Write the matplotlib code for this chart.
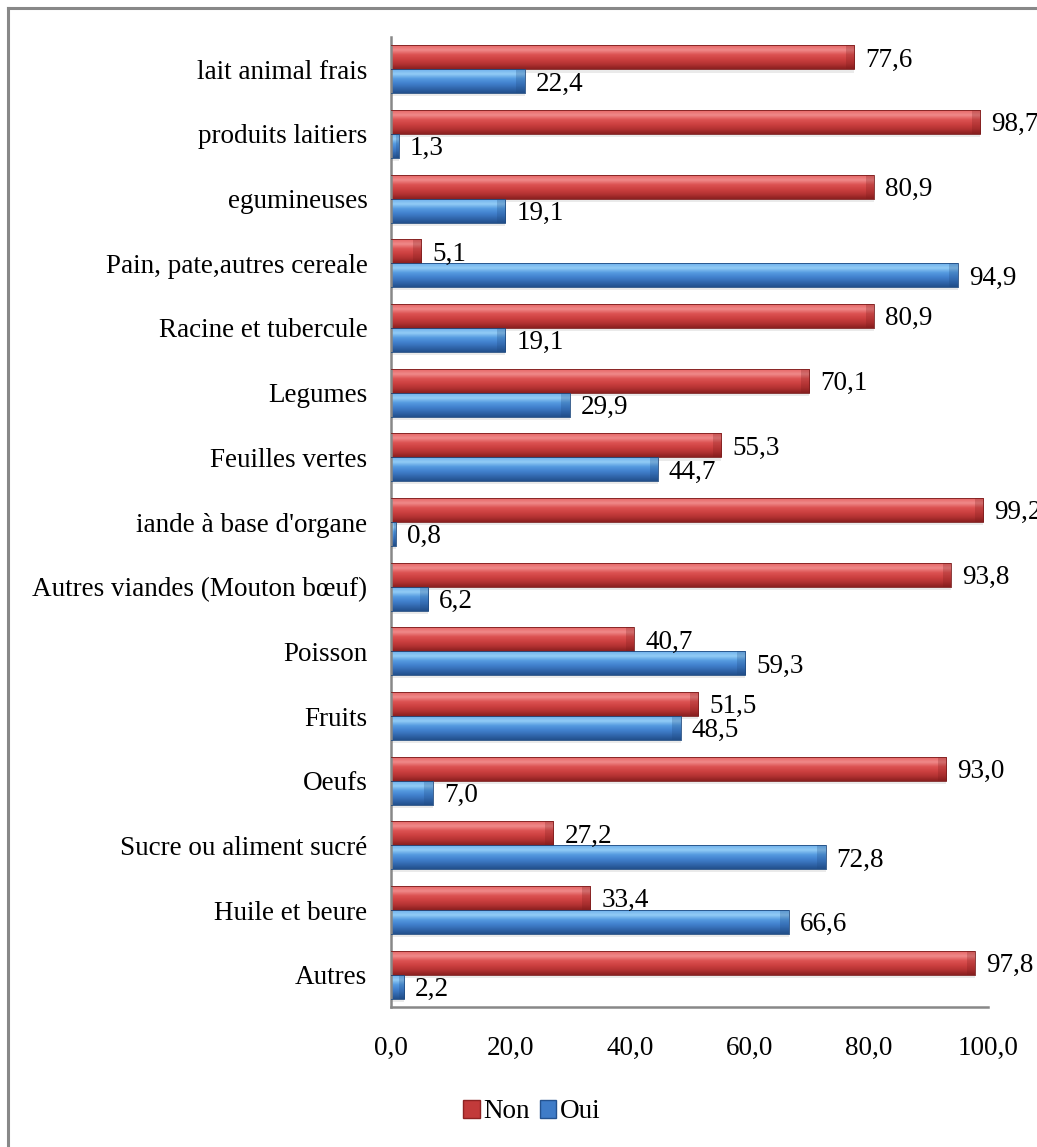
import matplotlib.pyplot as plt
import numpy as np
from matplotlib.colors import LinearSegmentedColormap
from matplotlib.patches import Patch
from matplotlib.lines import Line2D

plt.rcParams['font.family'] = ['Liberation Serif', 'DejaVu Serif']

# aliments consommés (ordre de haut en bas)
categories = ["lait animal frais", "produits laitiers", "egumineuses",
              "Pain, pate,autres cereale", "Racine et tubercule", "Legumes",
              "Feuilles vertes", "iande à base d'organe",
              "Autres viandes (Mouton bœuf)", "Poisson", "Fruits", "Oeufs",
              "Sucre ou aliment sucré", "Huile et beure", "Autres"]
non_vals = [77.6, 98.7, 80.9, 5.1, 80.9, 70.1, 55.3, 99.2, 93.8, 40.7,
            51.5, 93.0, 27.2, 33.4, 97.8]
oui_vals = [22.4, 1.3, 19.1, 94.9, 19.1, 29.9, 44.7, 0.8, 6.2, 59.3,
            48.5, 7.0, 72.8, 66.6, 2.2]
xticks = [0, 20, 40, 60, 80, 100]

FS = 19.5

# degrade vertical (bas -> haut) pour l'effet cylindre
red_cmap = LinearSegmentedColormap.from_list(
    'red3d', ['#8a2020', '#b33232', '#cc4040', '#dc5252', '#f08a8a', '#e56565'])
blue_cmap = LinearSegmentedColormap.from_list(
    'blue3d', ['#22508c', '#3268ae', '#4180cd', '#559ae0', '#92ccf6', '#6fb0ec'])
grad = np.linspace(0, 1, 64).reshape(-1, 1)

fig = plt.figure(figsize=(10.37, 11.47), dpi=100)
ax = fig.add_axes([391/1037, 1 - 1007/1147, (988 - 391)/1037, (1007 - 37)/1147])

n = len(categories)
ypos = np.arange(n)[::-1]
h = 0.37


def draw_bar(v, yc, cmap, edge):
    y0, y1 = yc - h/2, yc + h/2
    ax.imshow(grad, cmap=cmap, extent=(0, v, y0, y1), origin='lower',
              aspect='auto', zorder=2, interpolation='bilinear')
    # ombre legere sous la barre
    ax.fill_between([0, v], y0 - 0.05, y0, color='#dcdcdc', alpha=0.6, lw=0, zorder=1)
    # biseau a l'extremite
    d = min(1.4, v * 0.4)
    ax.fill([v - d, v, v, v - d], [y1, y1, y0, y0], color=edge, alpha=0.25,
            lw=0, zorder=3)
    ax.plot([0, v, v, 0], [y1, y1, y0, y0], color=edge, lw=0.6, zorder=3)


for i in range(n):
    yc_non = ypos[i] + h/2
    yc_oui = ypos[i] - h/2
    draw_bar(non_vals[i], yc_non, red_cmap, '#7a1c1c')
    draw_bar(oui_vals[i], yc_oui, blue_cmap, '#1f4a80')
    ax.annotate(f"{non_vals[i]:.1f}".replace('.', ','), (non_vals[i], yc_non),
                xytext=(8, -2), textcoords='offset points', va='center', ha='left',
                fontsize=FS, annotation_clip=False)
    ax.annotate(f"{oui_vals[i]:.1f}".replace('.', ','), (oui_vals[i], yc_oui),
                xytext=(8, -2), textcoords='offset points', va='center', ha='left',
                fontsize=FS, annotation_clip=False)

ax.set_xlim(0, 100)
ax.set_ylim(-0.5, n - 0.5)
ax.set_yticks(ypos)
ax.set_yticklabels(categories, fontsize=FS)
ax.set_xticks(xticks)
ax.set_xticklabels([f"{t:.1f}".replace('.', ',') for t in xticks], fontsize=FS)
ax.tick_params(axis='y', length=0, pad=17)
ax.tick_params(axis='x', length=0, pad=21)
for s in ['top', 'right']:
    ax.spines[s].set_visible(False)
for s in ['left', 'bottom']:
    ax.spines[s].set_color('#888888')
    ax.spines[s].set_linewidth(1.8)
ax.set_facecolor('none')

handles = [Patch(facecolor='#c23a3a', edgecolor='#8e2222', label='Non'),
           Patch(facecolor='#3f7cc8', edgecolor='#24528f', label='Oui')]
fig.legend(handles=handles, loc='center', bbox_to_anchor=(0.513, 1 - 1112/1147),
           ncol=2, frameon=False, fontsize=FS, handlelength=0.6, handleheight=0.6,
           handletextpad=0.15, columnspacing=0.35)

# cadre exterieur
fig.add_artist(Line2D([8/1037, 8/1037], [0, 1 - 8/1147], color='#888888', lw=2.2))
fig.add_artist(Line2D([8/1037, 1], [1 - 8/1147, 1 - 8/1147], color='#888888', lw=2.2))

fig.savefig('out.png', dpi=100)
